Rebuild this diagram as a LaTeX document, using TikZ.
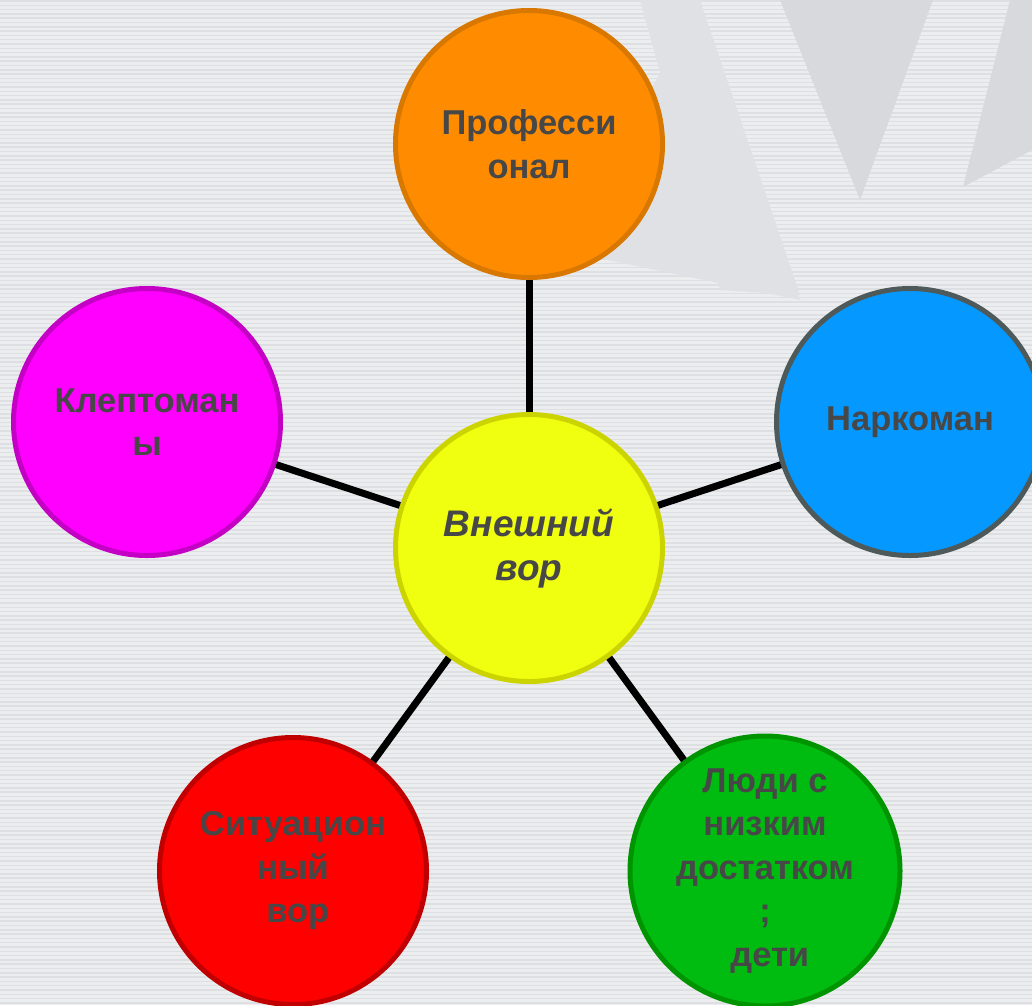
\documentclass[tikz,border=0pt]{standalone}
\usepackage{fontspec}
\setmainfont{Liberation Sans}
\begin{document}
\begin{tikzpicture}[x=1pt,y=-1pt,
  bubble/.style={circle,minimum size=267pt,inner sep=0pt,line width=5pt,
    align=center,text=txtgray,font=\fontsize{34.5}{43.5}\selectfont\bfseries},
  link/.style={line width=7pt,draw=black}]
\definecolor{bgcol}{HTML}{ECEDEF}
\definecolor{stripe}{HTML}{DEDFE2}
\definecolor{bgDark}{HTML}{D8D9DD}
\definecolor{bgMid}{HTML}{E0E1E5}
\definecolor{txtgray}{HTML}{474747}
\definecolor{orangeF}{HTML}{FF8C00}\definecolor{orangeD}{HTML}{D97800}
\definecolor{magF}{HTML}{FF00FF}\definecolor{magD}{HTML}{C400C4}
\definecolor{blueF}{HTML}{0598FF}\definecolor{blueD}{HTML}{4E5A5A}
\definecolor{yelF}{HTML}{F0FF10}\definecolor{yelD}{HTML}{CCD400}
\definecolor{redF}{HTML}{FF0000}\definecolor{redD}{HTML}{C00000}
\definecolor{grnF}{HTML}{00BB10}\definecolor{grnD}{HTML}{009400}
\useasboundingbox (0,0) rectangle (1032,1005);
\clip (0,0) rectangle (1032,1005);
% background
\fill[bgcol] (0,0) rectangle (1032,1005);
\foreach \i in {0,...,233} {
  \draw[stripe,line width=1.5pt] (0,{\i*4.3+1}) -- (1032,{\i*4.3+1});
}
\fill[bgMid] (560,250) -- (690,20) -- (800,300) -- cycle;
\fill[bgMid] (640,0) -- (700,0) -- (800,295) -- (720,290) -- cycle;
\fill[bgDark] (780,0) -- (933,0) -- (860,200) -- cycle;
\fill[bgDark] (1010,0) -- (1032,0) -- (1032,150) -- (963,187) -- cycle;
% nodes
\node[bubble,fill=yelF,draw=yelD,font=\fontsize{37}{44}\selectfont\bfseries\itshape] (c) at (529,548) {Внешний\\вор};
\node[bubble,fill=orangeF,draw=orangeD] (o) at (529,144) {Професси\\онал};
\node[bubble,fill=magF,draw=magD] (m) at (147,422) {Клептоман\\ы};
\node[bubble,fill=blueF,draw=blueD] (b) at (910,422) {Наркоман};
\node[bubble,fill=redF,draw=redD] (r) at (293,871) {Ситуацион\\ный\\\ вор};
\node[bubble,fill=grnF,draw=grnD] (g) at (765,871) {Люди с\\низким\\достатком\\;\\\ дети};
% connectors
\draw[link] (c) -- (o);
\draw[link] (c) -- (m);
\draw[link] (c) -- (b);
\draw[link] (c) -- (r);
\draw[link] (c) -- (g);
\end{tikzpicture}
\end{document}
